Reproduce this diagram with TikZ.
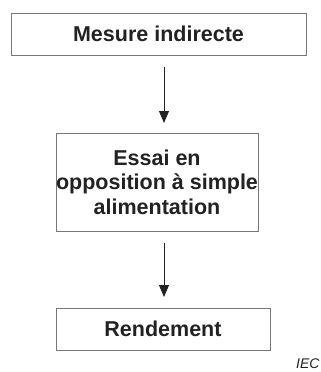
\documentclass[tikz,border=0pt]{standalone}
\usepackage{fontspec}
\setmainfont{Liberation Sans}
\usetikzlibrary{arrows.meta}
\definecolor{boxline}{HTML}{777777}
\definecolor{ink}{HTML}{222222}
\begin{document}
\begin{tikzpicture}[x=1pt,y=-1pt,
  stepbox/.style={draw=boxline,line width=0.9pt,inner sep=0pt,text=ink,
    font=\fontsize{21.5}{24.5}\selectfont\bfseries,align=center},
  flow/.style={draw=ink,line width=0.9pt,-{Triangle[width=10pt,length=12pt]}}]
\useasboundingbox (0,0) rectangle (321,372);
% process boxes
\node[stepbox,minimum width=295pt,minimum height=42pt] (b1) at (158.5,34) {Mesure indirecte};
\node[stepbox,minimum width=202pt,minimum height=98pt] (b2) at (157,182) {Essai en\\opposition à simple\\alimentation};
\node[stepbox,minimum width=214pt,minimum height=42pt] (b3) at (163,329) {Rendement};
% connectors with a gap before each box
\coordinate (a1s) at (164,67);
\coordinate (a1e) at (164,123);
\coordinate (a2s) at (164,243);
\coordinate (a2e) at (164,297);
\draw[flow] (a1s) -- (a1e);
\draw[flow] (a2s) -- (a2e);
% source mark
\node[anchor=north west,inner sep=0pt,text=ink,font=\fontsize{14}{14}\selectfont\itshape] (src) at (296,359) {IEC};
\end{tikzpicture}
\end{document}
